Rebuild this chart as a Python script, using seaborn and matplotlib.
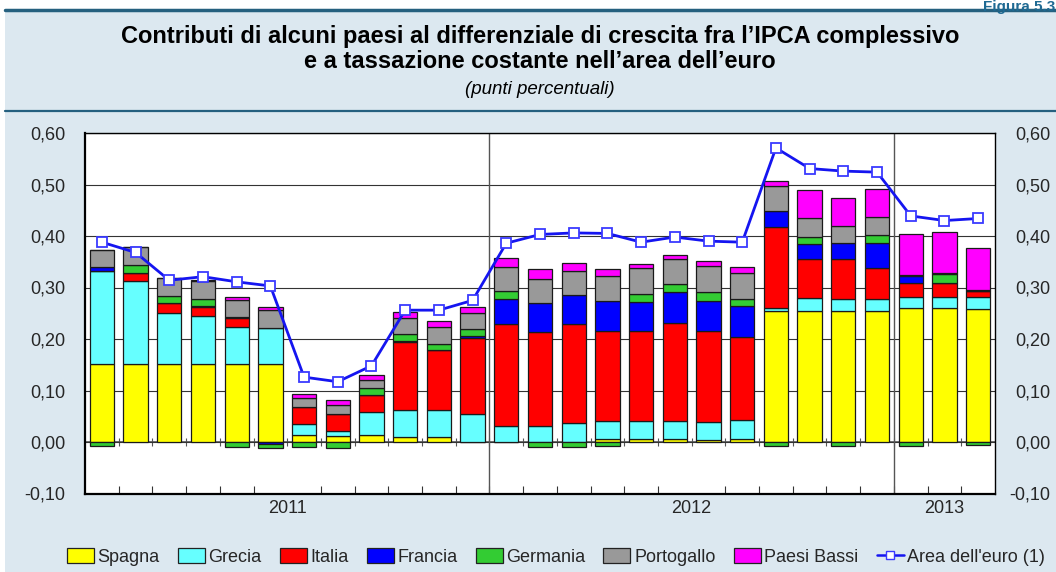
import numpy as np
import pandas as pd
import matplotlib
matplotlib.use("Agg")
import matplotlib.pyplot as plt
from matplotlib.patches import Rectangle, Patch
from matplotlib.lines import Line2D
import seaborn as sns

# ---------------- data ----------------
years = ["2011", "2012", "2013"]
months_per_year = [12, 12, 3]

spagna = [0.152, 0.152, 0.152, 0.151, 0.152, 0.151, 0.013, 0.011, 0.013, 0.010, 0.010, 0.0,
          0.0, 0.0, 0.0, 0.005, 0.005, 0.005, 0.003, 0.005, 0.254, 0.255, 0.254, 0.254,
          0.260, 0.260, 0.259]
grecia = [0.181, 0.160, 0.099, 0.094, 0.071, 0.070, 0.021, 0.010, 0.045, 0.053, 0.053, 0.054,
          0.032, 0.032, 0.036, 0.036, 0.035, 0.036, 0.035, 0.037, 0.007, 0.024, 0.024, 0.023,
          0.021, 0.021, 0.022]
italia = [0.0, 0.017, 0.018, 0.017, 0.017, 0.0, 0.034, 0.033, 0.033, 0.131, 0.116, 0.147,
          0.197, 0.181, 0.193, 0.175, 0.176, 0.191, 0.178, 0.161, 0.157, 0.076, 0.077, 0.060,
          0.028, 0.028, 0.012]
francia = [0.006, 0.0, 0.0, 0.003, 0.002, -0.003, 0.0, 0.0, 0.0, 0.003, 0.0, 0.004,
           0.049, 0.056, 0.056, 0.058, 0.056, 0.059, 0.058, 0.061, 0.030, 0.029, 0.031, 0.050,
           0.013, 0.0, 0.0]
germania = [-0.007, 0.015, 0.014, 0.013, -0.010, -0.008, -0.010, -0.012, 0.013, 0.012, 0.012, 0.014,
            0.015, -0.010, -0.010, -0.008, 0.016, 0.015, 0.017, 0.014, -0.008, 0.015, -0.008, 0.015,
            -0.007, 0.017, -0.006]
portogallo = [0.034, 0.035, 0.036, 0.034, 0.034, 0.035, 0.017, 0.017, 0.016, 0.031, 0.032, 0.031,
              0.047, 0.048, 0.048, 0.048, 0.049, 0.049, 0.051, 0.051, 0.050, 0.035, 0.033, 0.035,
              0.002, 0.003, 0.003]
paesi_bassi = [0.0, 0.0, 0.0, 0.003, 0.006, 0.006, 0.009, 0.011, 0.011, 0.012, 0.012, 0.013,
               0.017, 0.019, 0.014, 0.013, 0.009, 0.009, 0.010, 0.010, 0.008, 0.055, 0.054, 0.054,
               0.079, 0.078, 0.080]
area_euro = [0.388, 0.368, 0.314, 0.321, 0.311, 0.303, 0.126, 0.117, 0.148, 0.256, 0.256, 0.275,
             0.386, 0.403, 0.406, 0.405, 0.388, 0.398, 0.390, 0.388, 0.571, 0.531, 0.526, 0.524,
             0.439, 0.430, 0.434]

series_names = ["Spagna", "Grecia", "Italia", "Francia", "Germania", "Portogallo", "Paesi Bassi"]
series_vals = [spagna, grecia, italia, francia, germania, portogallo, paesi_bassi]
series_colors = ["#ffff00", "#66ffff", "#ff0000", "#0000ff", "#33cc33", "#999999", "#ff00ff"]
line_name = "Area dell'euro (1)"
y_ticks = [-0.10, 0.0, 0.10, 0.20, 0.30, 0.40, 0.50, 0.60]

# ---------------- style ----------------
sns.set_theme(style="white")
plt.rcParams["font.family"] = ["Liberation Sans", "DejaVu Sans"]

W, H = 1056, 572
fig = plt.figure(figsize=(W / 100, H / 100), dpi=100)
fig.patch.set_facecolor("white")

panel = "#dce8f0"
fig.add_artist(Rectangle((5 / W, 0), 1 - 5 / W, 1 - 10 / H, transform=fig.transFigure,
                         facecolor=panel, edgecolor="none", zorder=-10))
fig.add_artist(Line2D([5 / W, 1], [1 - 10 / H, 1 - 10 / H], transform=fig.transFigure,
                      color="#25607f", lw=2.5, zorder=-5))
fig.add_artist(Line2D([5 / W, 1], [1 - 111 / H, 1 - 111 / H], transform=fig.transFigure,
                      color="#25607f", lw=1.6, zorder=-5))
fig.text(1055 / W, 1.0, "Figura 5.3", ha="right", va="top", fontsize=11,
         fontweight="bold", color="#1f6a93")

fig.text(540 / W, 1 - 36 / H,
         "Contributi di alcuni paesi al differenziale di crescita fra l\u2019IPCA complessivo",
         ha="center", va="center", fontsize=17, fontweight="bold", color="black")
fig.text(540 / W, 1 - 61 / H, "e a tassazione costante nell\u2019area dell\u2019euro",
         ha="center", va="center", fontsize=17, fontweight="bold", color="black")
fig.text(540 / W, 1 - 89 / H, "(punti percentuali)", ha="center", va="center",
         fontsize=13.5, fontstyle="italic", color="black")

ax = fig.add_axes([85 / W, 1 - 493.5 / H, 910 / W, (493.5 - 133) / H])
ax.set_facecolor("white")

n = len(area_euro)
x = np.arange(n)

# stacked bars
pos_base = np.zeros(n)
neg_base = np.zeros(n)
for name, vals, col in zip(series_names, series_vals, series_colors):
    v = np.array(vals)
    bottoms = np.where(v >= 0, pos_base, neg_base)
    ax.bar(x, v, width=0.72, bottom=bottoms, color=col, edgecolor="#1a1a1a",
           linewidth=0.9, zorder=3)
    pos_base = pos_base + np.where(v >= 0, v, 0)
    neg_base = neg_base + np.where(v < 0, v, 0)

# line with seaborn
df_line = pd.DataFrame({"x": x, "y": area_euro})
sns.lineplot(data=df_line, x="x", y="y", ax=ax, color="#1515f0", lw=2.0, marker="s",
             markersize=7, markerfacecolor="white", markeredgecolor="#3a3aff",
             markeredgewidth=1.3, zorder=5)

ax.set_xlim(-0.5, n - 0.5)
ax.set_ylim(-0.10, 0.60)
ax.set_yticks(y_ticks)
ytl = [f"{t:.2f}".replace(".", ",") for t in y_ticks]
ax.set_yticklabels(ytl)
ax.tick_params(axis="y", labelsize=13, length=0, pad=14)
ax.set_xlabel("")
ax.set_ylabel("")
for yv in y_ticks[1:]:
    ax.axhline(yv, color="#333333", lw=0.8, zorder=1)

# right-hand labels, right-aligned near the figure edge
ax2 = ax.twinx()
ax2.set_ylim(ax.get_ylim())
ax2.set_yticks(y_ticks)
ax2.set_yticklabels(ytl, ha="right")
ax2.tick_params(axis="y", labelsize=13, length=0, pad=40)
ax2.grid(False)
for s in ax2.spines.values():
    s.set_visible(False)

# year separators and ticks
bounds = np.cumsum(months_per_year)
starts = np.concatenate([[0], bounds[:-1]])
centers = [(s + e) / 2 - 0.5 for s, e in zip(starts, bounds)]
for b in bounds[:-1]:
    ax.axvline(b - 0.5, color="#555555", lw=1.0, zorder=2)
ax.set_xticks(centers)
ax.set_xticklabels(years, fontsize=13)
ax.set_xticks(np.arange(0.5, n - 0.5, 1.0), minor=True)
ax.tick_params(axis="x", which="major", length=0, pad=5)
ax.tick_params(axis="x", which="minor", direction="in", length=6, width=0.8,
               color="#333333", bottom=True)

sec = ax.secondary_xaxis(0.1 / 0.7)
sec.set_xticks(np.arange(0.5, n - 0.5, 1.0))
sec.set_xticklabels([])
sec.tick_params(direction="inout", length=6, width=0.8, color="#555555")
sec.spines["bottom"].set_color("#555555")
sec.spines["bottom"].set_linewidth(1.2)

for s in ax.spines.values():
    s.set_visible(True)
    s.set_color("black")
    s.set_linewidth(1.0)
ax.spines["left"].set_linewidth(1.6)
ax.spines["bottom"].set_linewidth(1.6)

# legend
handles = [Patch(facecolor=c, edgecolor="#222222", linewidth=0.9, label=nm)
           for nm, c in zip(series_names, series_colors)]
handles.append(Line2D([0], [0], color="#1515f0", lw=1.8, marker="s", markersize=6,
                      markerfacecolor="white", markeredgecolor="#3a3aff", label=line_name))
fig.legend(handles=handles, loc="center", bbox_to_anchor=(556 / W, 1 - 557 / H), ncol=8,
           frameon=False, fontsize=13, handlelength=1.5, handleheight=0.9,
           handletextpad=0.2, columnspacing=1.0, borderaxespad=0)

fig.savefig("out.png", dpi=100, facecolor=fig.get_facecolor())
